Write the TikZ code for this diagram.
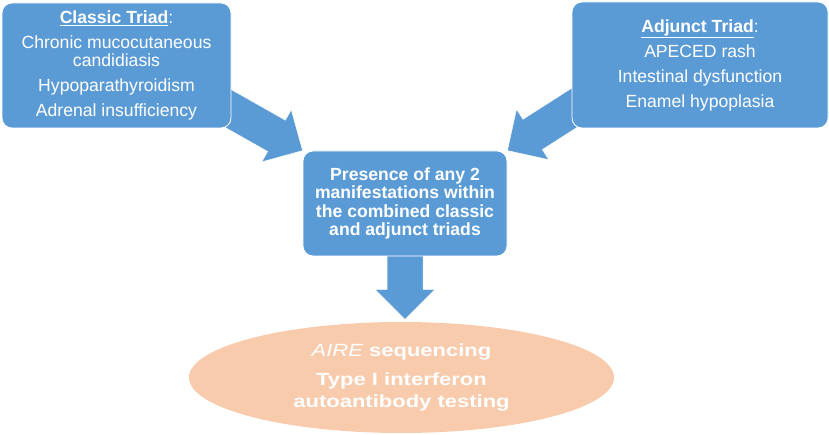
\documentclass[tikz,border=0pt]{standalone}
\usepackage{fontspec}
\setmainfont{Liberation Sans}
\newfontfamily\widefont[FakeStretch=1.25]{Liberation Sans}
\usepackage{tikz}
\usepackage{xcolor}
\usetikzlibrary{shapes.geometric, calc, backgrounds}

\definecolor{boxblue}{RGB}{91,155,213}
\definecolor{peach}{RGB}{248,203,173}

% block arrow from tail (#1) to tip (#2)
\newcommand{\fatarrow}[2]{%
    \coordinate (hb) at ($(#2)!30pt!(#1)$);
    \filldraw[blockarrow] ($(#1)!18pt!90:(#2)$) -- ($(hb)!18pt!90:(#2)$) -- ($(hb)!30pt!90:(#2)$) -- (#2)
        -- ($(hb)!30pt!-90:(#2)$) -- ($(hb)!18pt!-90:(#2)$) -- ($(#1)!18pt!-90:(#2)$) -- cycle;}

\begin{document}
\begin{tikzpicture}[x=1pt, y=1pt]

    % Define style for different elements
    \tikzstyle{triad} = [rectangle, rounded corners=10pt, align=center, draw=white, line width=0.8pt, fill=boxblue, text=white, font=\fontsize{17.6}{18.5}\selectfont, inner sep=0pt]
    \tikzstyle{criteria} = [triad, font=\bfseries\fontsize{17.6}{18.3}\selectfont]
    \tikzstyle{testing} = [ellipse, align=center, fill=peach, text=white, inner sep=0pt, font=\widefont\bfseries\fontsize{17.6}{22}\selectfont]
    \tikzstyle{blockarrow} = [fill=boxblue, draw=white, line width=0.5pt]

    \useasboundingbox (0,0) rectangle (829,-435);

    % Place nodes
    \node (classic) [triad, minimum width=229, minimum height=125] at (116.5,-65.5)
        {\underline{\textbf{Classic Triad}}:\\[6.5pt]
         Chronic mucocutaneous\\ candidiasis\\[6.5pt]
         Hypoparathyroidism\\[6.5pt]
         Adrenal insufficiency};
    \node (adjunct) [triad, minimum width=256, minimum height=126] at (700,-65)
        {\underline{\textbf{Adjunct Triad}}:\\[6.5pt]
         APECED rash\\[6.5pt]
         Intestinal dysfunction\\[6.5pt]
         Enamel hypoplasia};
    \node (combined) [criteria, minimum width=204, minimum height=105] at (405,-203.5)
        {Presence of any 2\\ manifestations within\\ the combined classic\\ and adjunct triads};
    \node (tests) [testing, minimum width=425, minimum height=111] at (401.5,-377.5)
        {{\mdseries\itshape AIRE} sequencing\\[7pt]
         Type I interferon\\ autoantibody testing};

    % Draw arrows
    \coordinate (classictail) at ($(classic.south east)+(-14,26)$);
    \coordinate (adjuncttail) at ($(adjunct.south west)+(19,31)$);
    \coordinate (teststip) at ($(combined.south)+(0,-63)$);
    \begin{scope}[on background layer]
        \fatarrow{classictail}{combined.north west}
        \fatarrow{adjuncttail}{combined.north east}
        \fatarrow{combined.center}{teststip}
    \end{scope}

\end{tikzpicture}
\end{document}
